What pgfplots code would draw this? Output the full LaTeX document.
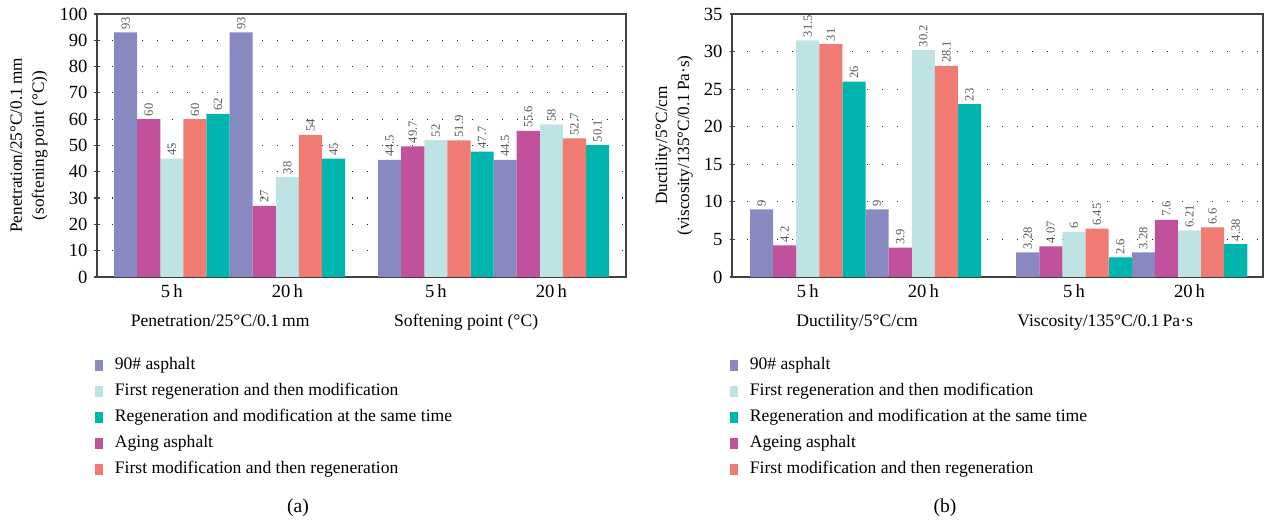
\documentclass[border=0pt]{standalone}
\usepackage{fontspec}
\setmainfont{Liberation Serif}
\usepackage{pgfplots}
\pgfplotsset{compat=1.18}
\definecolor{cA}{RGB}{135,137,192}
\definecolor{cB}{RGB}{194,81,157}
\definecolor{cC}{RGB}{190,227,228}
\definecolor{cD}{RGB}{240,123,114}
\definecolor{cE}{RGB}{0,181,173}
\pgfplotsset{
  myaxis/.style={
    scale only axis, height=131.5pt, ymin=0,
    clip=false,
    /pgf/number format/assume math mode=true,
    axis line style={black!75,line width=0.6pt},
    tick style={black!75,line width=0.6pt},
    major tick length=2.5pt,
    tick align=center,
    ytick pos=left, xtick pos=bottom,
    ymajorgrids,
    grid style={black!85, line width=0.6pt, dash pattern=on 0.7pt off 6.8pt},
    tick label style={font=\fontsize{9.3}{11}\selectfont},
    xticklabel style={anchor=base, yshift=-9pt},
    x tick style={draw=none},
    extra x tick style={tick align=inside, major tick length=4pt, tick style={draw=black!75}},
    extra x tick labels={},
    ylabel style={align=center, font=\fontsize{8.6}{11}\selectfont, anchor=center},
    legend cell align=left,
    legend style={draw=none, fill=none, anchor=north west, inner sep=0pt, outer sep=0pt,
      font=\fontsize{8.8}{10.5}\selectfont, row sep=4.5pt, column sep=6pt,
      nodes={inner sep=0pt, text height=6.5pt, text depth=2pt}},
    legend image code/.code={\fill[#1] (0pt,-2.8pt) rectangle (4pt,2.8pt);},
  },
  bar/.style={ybar, bar shift=0pt, bar width=1, draw=none, fill=#1,
    nodes near coords={\pgfmathprintnumber[fixed,precision=2]{\pgfplotspointmeta}},
    every node near coord/.append style={rotate=90, anchor=west, inner sep=1.3pt,
      font=\fontsize{6.3}{7.5}\selectfont, text=black!65}},
}
\begin{document}
\begin{tikzpicture}
\useasboundingbox (0,0) rectangle (632pt,-261pt);
% ---------- (a)
\begin{axis}[myaxis, at={(48.5pt,-138.5pt)}, anchor=south west, width=264.5pt,
  xmin=-0.74, xmax=22.16, ymax=100, ytick={0,10,...,100},
  xtick={2.5,7.5,13.93,18.93}, xticklabels={5\,h,20\,h,5\,h,20\,h},
  extra x ticks={10.74},
  ylabel={Penetration/25°C/0.1\,mm\\(softening point (°C))},
  ylabel style={at={(axis description cs:-0.1285,0.5)}},
  legend style={at={(axis description cs:-0.004,-0.304)}}]
\addplot[bar=cA] coordinates {(0.5,93) (5.5,93) (11.93,44.5) (16.93,44.5)};
\addlegendentry{90\# asphalt}
\addplot[bar=cC] coordinates {(2.5,45) (7.5,38) (13.93,52) (18.93,58)};
\addlegendentry{First regeneration and then modification}
\addplot[bar=cE] coordinates {(4.5,62) (9.5,45) (15.93,47.7) (20.93,50.1)};
\addlegendentry{Regeneration and modification at the same time}
\addplot[bar=cB] coordinates {(1.5,60) (6.5,27) (12.93,49.7) (17.93,55.6)};
\addlegendentry{Aging asphalt}
\addplot[bar=cD] coordinates {(3.5,60) (8.5,54) (14.93,51.9) (19.93,52.7)};
\addlegendentry{First modification and then regeneration}
\node[anchor=base, font=\fontsize{8.8}{10}\selectfont] at (axis cs:4.59,0) [yshift=-25pt] {Penetration/25°C/0.1\,mm};
\node[anchor=base, font=\fontsize{8.8}{10}\selectfont] at (axis cs:15.24,0) [yshift=-25pt] {Softening point (°C)};
\end{axis}
% ---------- (b)
\begin{axis}[myaxis, at={(366pt,-138.5pt)}, anchor=south west, width=265.5pt,
  xmin=-0.78, xmax=22.2, ymax=35, ytick={0,5,...,35},
  xtick={2.5,7.5,14.02,19.02}, xticklabels={5\,h,20\,h,5\,h,20\,h},
  extra x ticks={10.74},
  ylabel={Ductility/5°C/cm\\(viscosity/135°C/0.1\,Pa·s)},
  ylabel style={at={(axis description cs:-0.109,0.5)}},
  legend style={at={(axis description cs:-0.004,-0.304)}}]
\addplot[bar=cA] coordinates {(0.5,9) (5.5,9) (12.02,3.28) (17.02,3.28)};
\addlegendentry{90\# asphalt}
\addplot[bar=cC] coordinates {(2.5,31.5) (7.5,30.2) (14.02,6) (19.02,6.21)};
\addlegendentry{First regeneration and then modification}
\addplot[bar=cE] coordinates {(4.5,26) (9.5,23) (16.02,2.6) (21.02,4.38)};
\addlegendentry{Regeneration and modification at the same time}
\addplot[bar=cB] coordinates {(1.5,4.2) (6.5,3.9) (13.02,4.07) (18.02,7.6)};
\addlegendentry{Ageing asphalt}
\addplot[bar=cD] coordinates {(3.5,31) (8.5,28.1) (15.02,6.45) (20.02,6.6)};
\addlegendentry{First modification and then regeneration}
\node[anchor=base, font=\fontsize{8.8}{10}\selectfont] at (axis cs:4.63,0) [yshift=-25pt] {Ductility/5°C/cm};
\node[anchor=base, font=\fontsize{8.8}{10}\selectfont] at (axis cs:15.37,0) [yshift=-25pt] {Viscosity/135°C/0.1\,Pa·s};
\end{axis}
\node[font=\fontsize{9.8}{11}\selectfont] at (149pt,-254pt) {(a)};
\node[font=\fontsize{9.8}{11}\selectfont] at (472.5pt,-254pt) {(b)};
\end{tikzpicture}
\end{document}
